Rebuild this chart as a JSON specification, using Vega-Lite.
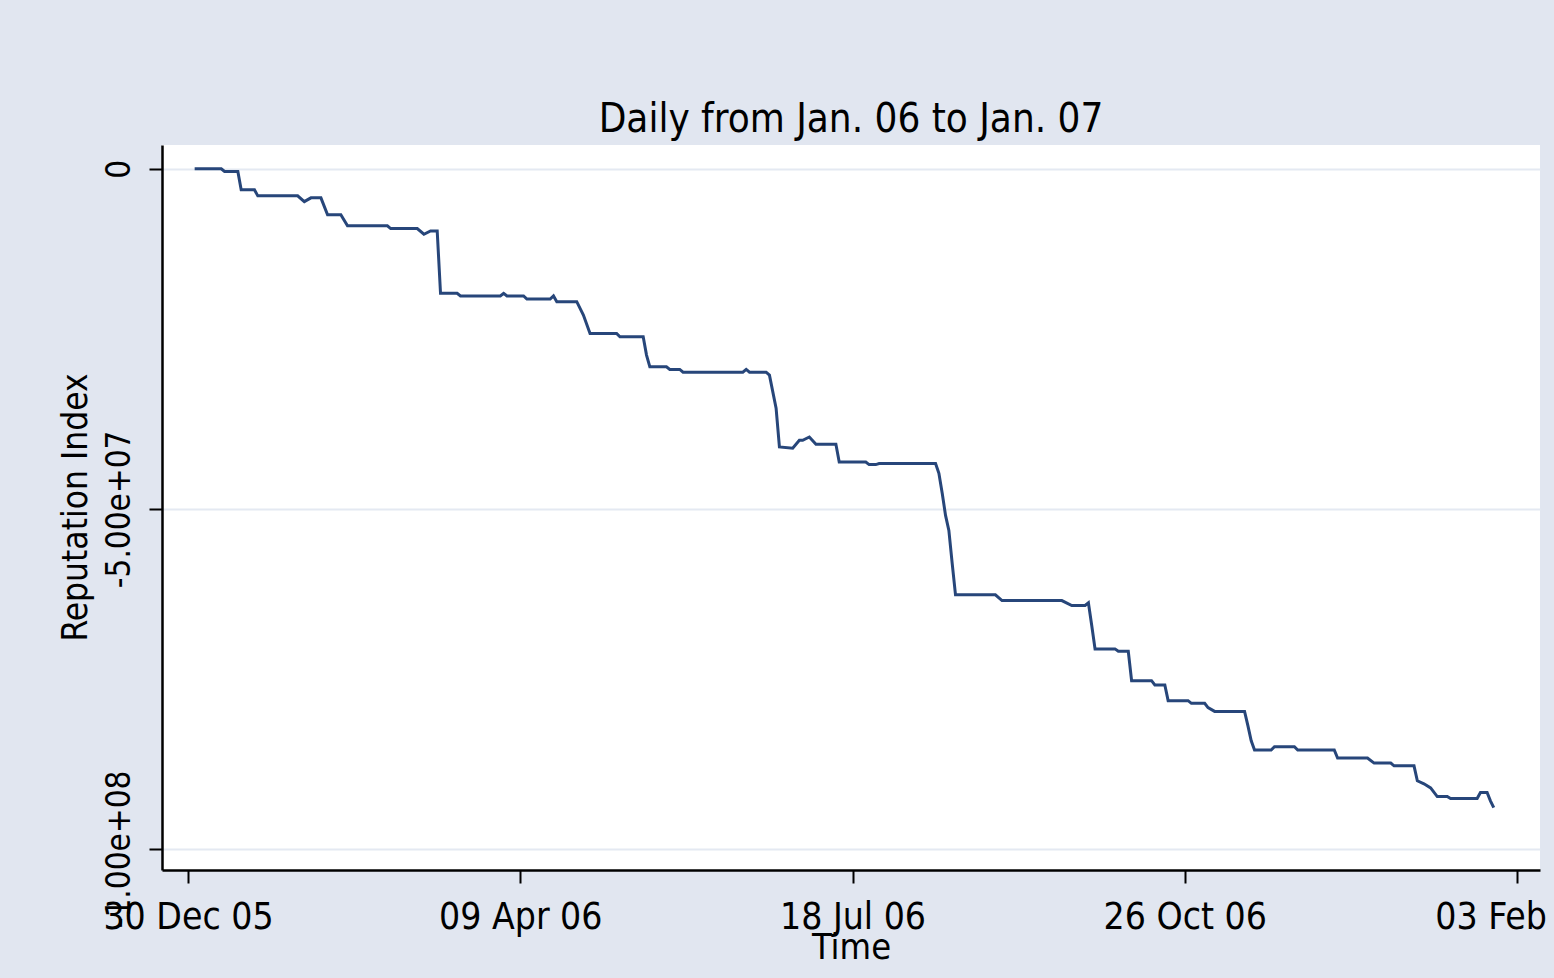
{
  "$schema": "https://vega.github.io/schema/vega-lite/v6.json",
  "autosize": {"type": "none"},
  "padding": {"left": 162, "top": 145, "right": 14, "bottom": 108},
  "width": 1378,
  "height": 725,
  "background": "#e1e6f0",
  "title": {
    "text": "Daily from Jan. 06 to Jan. 07",
    "font": "DejaVu Sans Condensed, DejaVu Sans, sans-serif",
    "fontSize": 40,
    "fontWeight": "normal",
    "color": "#000000",
    "baseline": "alphabetic",
    "offset": 14,
    "dy": 41,
    "anchor": "middle",
    "limit": 1400
  },
  "config": {
    "view": {"fill": "#ffffff", "stroke": null},
    "axis": {
      "labelFont": "DejaVu Sans Condensed, DejaVu Sans, sans-serif",
      "titleFont": "DejaVu Sans Condensed, DejaVu Sans, sans-serif",
      "labelColor": "#000000",
      "titleColor": "#000000",
      "titleFontWeight": "normal",
      "domainColor": "#000000",
      "domainWidth": 2.5,
      "tickColor": "#000000",
      "tickWidth": 2,
      "tickSize": 13,
      "labelLimit": 600,
      "titleLimit": 1000
    }
  },
  "data": {
    "values": [
      {"date": "2006-01-01", "index": 0},
      {"date": "2006-01-09", "index": 0},
      {"date": "2006-01-10", "index": -400000},
      {"date": "2006-01-14", "index": -400000},
      {"date": "2006-01-15", "index": -3090000},
      {"date": "2006-01-19", "index": -3090000},
      {"date": "2006-01-20", "index": -3980000},
      {"date": "2006-02-01", "index": -3980000},
      {"date": "2006-02-03", "index": -4820000},
      {"date": "2006-02-05", "index": -4270000},
      {"date": "2006-02-08", "index": -4270000},
      {"date": "2006-02-10", "index": -6770000},
      {"date": "2006-02-14", "index": -6770000},
      {"date": "2006-02-16", "index": -8390000},
      {"date": "2006-02-28", "index": -8390000},
      {"date": "2006-03-01", "index": -8790000},
      {"date": "2006-03-09", "index": -8790000},
      {"date": "2006-03-11", "index": -9620000},
      {"date": "2006-03-13", "index": -9130000},
      {"date": "2006-03-15", "index": -9130000},
      {"date": "2006-03-16", "index": -18310000},
      {"date": "2006-03-21", "index": -18310000},
      {"date": "2006-03-22", "index": -18700000},
      {"date": "2006-04-03", "index": -18700000},
      {"date": "2006-04-04", "index": -18310000},
      {"date": "2006-04-05", "index": -18700000},
      {"date": "2006-04-10", "index": -18700000},
      {"date": "2006-04-11", "index": -19150000},
      {"date": "2006-04-18", "index": -19150000},
      {"date": "2006-04-19", "index": -18700000},
      {"date": "2006-04-20", "index": -19540000},
      {"date": "2006-04-26", "index": -19540000},
      {"date": "2006-04-28", "index": -21500000},
      {"date": "2006-04-30", "index": -24200000},
      {"date": "2006-05-08", "index": -24200000},
      {"date": "2006-05-09", "index": -24700000},
      {"date": "2006-05-16", "index": -24700000},
      {"date": "2006-05-17", "index": -27390000},
      {"date": "2006-05-18", "index": -29120000},
      {"date": "2006-05-23", "index": -29120000},
      {"date": "2006-05-24", "index": -29500000},
      {"date": "2006-05-27", "index": -29500000},
      {"date": "2006-05-28", "index": -29900000},
      {"date": "2006-06-15", "index": -29900000},
      {"date": "2006-06-16", "index": -29500000},
      {"date": "2006-06-17", "index": -29900000},
      {"date": "2006-06-22", "index": -29900000},
      {"date": "2006-06-23", "index": -30340000},
      {"date": "2006-06-25", "index": -35200000},
      {"date": "2006-06-26", "index": -40900000},
      {"date": "2006-06-30", "index": -41090000},
      {"date": "2006-07-02", "index": -39910000},
      {"date": "2006-07-03", "index": -39910000},
      {"date": "2006-07-05", "index": -39430000},
      {"date": "2006-07-07", "index": -40500000},
      {"date": "2006-07-13", "index": -40500000},
      {"date": "2006-07-14", "index": -43110000},
      {"date": "2006-07-22", "index": -43110000},
      {"date": "2006-07-23", "index": -43490000},
      {"date": "2006-07-25", "index": -43490000},
      {"date": "2006-07-26", "index": -43340000},
      {"date": "2006-08-12", "index": -43340000},
      {"date": "2006-08-13", "index": -44770000},
      {"date": "2006-08-14", "index": -47720000},
      {"date": "2006-08-15", "index": -50960000},
      {"date": "2006-08-16", "index": -53170000},
      {"date": "2006-08-17", "index": -58030000},
      {"date": "2006-08-18", "index": -62640000},
      {"date": "2006-08-30", "index": -62640000},
      {"date": "2006-09-01", "index": -63480000},
      {"date": "2006-09-19", "index": -63480000},
      {"date": "2006-09-22", "index": -64210000},
      {"date": "2006-09-26", "index": -64210000},
      {"date": "2006-09-27", "index": -63820000},
      {"date": "2006-09-28", "index": -67160000},
      {"date": "2006-09-29", "index": -70590000},
      {"date": "2006-10-05", "index": -70590000},
      {"date": "2006-10-06", "index": -70940000},
      {"date": "2006-10-09", "index": -70940000},
      {"date": "2006-10-10", "index": -75260000},
      {"date": "2006-10-16", "index": -75260000},
      {"date": "2006-10-17", "index": -75890000},
      {"date": "2006-10-20", "index": -75890000},
      {"date": "2006-10-21", "index": -78200000},
      {"date": "2006-10-27", "index": -78200000},
      {"date": "2006-10-28", "index": -78600000},
      {"date": "2006-11-01", "index": -78600000},
      {"date": "2006-11-02", "index": -79230000},
      {"date": "2006-11-04", "index": -79780000},
      {"date": "2006-11-13", "index": -79780000},
      {"date": "2006-11-14", "index": -81880000},
      {"date": "2006-11-15", "index": -84090000},
      {"date": "2006-11-16", "index": -85460000},
      {"date": "2006-11-21", "index": -85460000},
      {"date": "2006-11-22", "index": -84980000},
      {"date": "2006-11-28", "index": -84980000},
      {"date": "2006-11-29", "index": -85460000},
      {"date": "2006-12-10", "index": -85460000},
      {"date": "2006-12-11", "index": -86640000},
      {"date": "2006-12-20", "index": -86640000},
      {"date": "2006-12-22", "index": -87380000},
      {"date": "2006-12-27", "index": -87380000},
      {"date": "2006-12-28", "index": -87780000},
      {"date": "2007-01-03", "index": -87780000},
      {"date": "2007-01-04", "index": -89980000},
      {"date": "2007-01-06", "index": -90430000},
      {"date": "2007-01-08", "index": -91020000},
      {"date": "2007-01-10", "index": -92300000},
      {"date": "2007-01-13", "index": -92300000},
      {"date": "2007-01-14", "index": -92590000},
      {"date": "2007-01-22", "index": -92590000},
      {"date": "2007-01-23", "index": -91710000},
      {"date": "2007-01-25", "index": -91710000},
      {"date": "2007-01-26", "index": -92930000},
      {"date": "2007-01-27", "index": -93920000}
    ]
  },
  "mark": {"type": "line", "color": "#27467a", "strokeWidth": 3, "interpolate": "linear"},
  "encoding": {
    "x": {
      "field": "date",
      "type": "temporal",
      "scale": {"type": "utc", "domain": [1135224288000, 1171058688000], "nice": false},
      "axis": {
        "title": "Time",
        "titleFontSize": 36,
        "titleBaseline": "alphabetic",
        "titleY": 88,
        "values": [1135900800000, 1144540800000, 1153180800000, 1161820800000, 1170460800000],
        "labelExpr": "utcFormat(datum.value, '%d %b %y')",
        "labelFontSize": 37,
        "labelBaseline": "alphabetic",
        "labelPadding": 45,
        "labelFlush": false,
        "labelOverlap": false,
        "labelBound": false,
        "grid": false
      }
    },
    "y": {
      "field": "index",
      "type": "quantitative",
      "scale": {"domain": [-103100000, 3500000], "nice": false, "zero": false},
      "axis": {
        "title": "Reputation Index",
        "titleFontSize": 35,
        "titleAngle": 270,
        "titleAlign": "center",
        "titleBaseline": "alphabetic",
        "titleX": -76,
        "titleY": 362,
        "values": [0, -50000000, -100000000],
        "labelExpr": "datum.value == 0 ? '0' : (datum.value == -50000000 ? '-5.00e+07' : '-1.00e+08')",
        "labelFontSize": 33,
        "labelAngle": 270,
        "labelAlign": "center",
        "labelBaseline": "alphabetic",
        "labelPadding": 20,
        "labelOverlap": false,
        "labelBound": false,
        "grid": true,
        "gridColor": "#e4e9f2",
        "gridWidth": 2
      }
    }
  }
}
